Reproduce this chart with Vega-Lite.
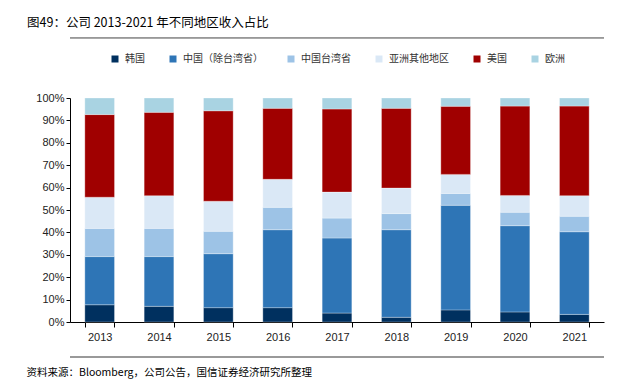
{
  "$schema": "https://vega.github.io/schema/vega-lite/v6.json",
  "autosize": "none",
  "width": 534,
  "height": 224,
  "padding": {"left": 70, "top": 98, "right": 27, "bottom": 67},
  "background": "white",
  "config": {"view": {"stroke": null}},
  "title": {
    "text": "图49：公司 2013-2021 年不同地区收入占比",
    "anchor": "start",
    "frame": "group",
    "dx": -43,
    "offset": 8,
    "font": "Noto Sans CJK SC",
    "fontSize": 12.5,
    "fontWeight": "normal",
    "color": "#000000"
  },
  "data": {"values": [
    {"year": "2013", "region": "韩国", "k": 0, "v": 7.7},
    {"year": "2013", "region": "中国（除台湾省）", "k": 1, "v": 21.5},
    {"year": "2013", "region": "中国台湾省", "k": 2, "v": 12.6},
    {"year": "2013", "region": "亚洲其他地区", "k": 3, "v": 13.9},
    {"year": "2013", "region": "美国", "k": 4, "v": 36.9},
    {"year": "2013", "region": "欧洲", "k": 5, "v": 7.4},
    {"year": "2014", "region": "韩国", "k": 0, "v": 7.0},
    {"year": "2014", "region": "中国（除台湾省）", "k": 1, "v": 22.2},
    {"year": "2014", "region": "中国台湾省", "k": 2, "v": 12.6},
    {"year": "2014", "region": "亚洲其他地区", "k": 3, "v": 14.6},
    {"year": "2014", "region": "美国", "k": 4, "v": 37.2},
    {"year": "2014", "region": "欧洲", "k": 5, "v": 6.4},
    {"year": "2015", "region": "韩国", "k": 0, "v": 6.4},
    {"year": "2015", "region": "中国（除台湾省）", "k": 1, "v": 24.1},
    {"year": "2015", "region": "中国台湾省", "k": 2, "v": 10.0},
    {"year": "2015", "region": "亚洲其他地区", "k": 3, "v": 13.4},
    {"year": "2015", "region": "美国", "k": 4, "v": 40.4},
    {"year": "2015", "region": "欧洲", "k": 5, "v": 5.7},
    {"year": "2016", "region": "韩国", "k": 0, "v": 6.4},
    {"year": "2016", "region": "中国（除台湾省）", "k": 1, "v": 34.8},
    {"year": "2016", "region": "中国台湾省", "k": 2, "v": 10.0},
    {"year": "2016", "region": "亚洲其他地区", "k": 3, "v": 12.5},
    {"year": "2016", "region": "美国", "k": 4, "v": 31.7},
    {"year": "2016", "region": "欧洲", "k": 5, "v": 4.6},
    {"year": "2017", "region": "韩国", "k": 0, "v": 4.0},
    {"year": "2017", "region": "中国（除台湾省）", "k": 1, "v": 33.5},
    {"year": "2017", "region": "中国台湾省", "k": 2, "v": 8.9},
    {"year": "2017", "region": "亚洲其他地区", "k": 3, "v": 11.6},
    {"year": "2017", "region": "美国", "k": 4, "v": 37.1},
    {"year": "2017", "region": "欧洲", "k": 5, "v": 4.9},
    {"year": "2018", "region": "韩国", "k": 0, "v": 2.1},
    {"year": "2018", "region": "中国（除台湾省）", "k": 1, "v": 39.1},
    {"year": "2018", "region": "中国台湾省", "k": 2, "v": 7.2},
    {"year": "2018", "region": "亚洲其他地区", "k": 3, "v": 11.4},
    {"year": "2018", "region": "美国", "k": 4, "v": 35.6},
    {"year": "2018", "region": "欧洲", "k": 5, "v": 4.6},
    {"year": "2019", "region": "韩国", "k": 0, "v": 5.4},
    {"year": "2019", "region": "中国（除台湾省）", "k": 1, "v": 46.7},
    {"year": "2019", "region": "中国台湾省", "k": 2, "v": 5.3},
    {"year": "2019", "region": "亚洲其他地区", "k": 3, "v": 8.5},
    {"year": "2019", "region": "美国", "k": 4, "v": 30.4},
    {"year": "2019", "region": "欧洲", "k": 5, "v": 3.7},
    {"year": "2020", "region": "韩国", "k": 0, "v": 4.5},
    {"year": "2020", "region": "中国（除台湾省）", "k": 1, "v": 38.5},
    {"year": "2020", "region": "中国台湾省", "k": 2, "v": 6.0},
    {"year": "2020", "region": "亚洲其他地区", "k": 3, "v": 7.5},
    {"year": "2020", "region": "美国", "k": 4, "v": 39.9},
    {"year": "2020", "region": "欧洲", "k": 5, "v": 3.6},
    {"year": "2021", "region": "韩国", "k": 0, "v": 3.4},
    {"year": "2021", "region": "中国（除台湾省）", "k": 1, "v": 36.9},
    {"year": "2021", "region": "中国台湾省", "k": 2, "v": 6.9},
    {"year": "2021", "region": "亚洲其他地区", "k": 3, "v": 9.2},
    {"year": "2021", "region": "美国", "k": 4, "v": 40.0},
    {"year": "2021", "region": "欧洲", "k": 5, "v": 3.6}
  ]},
  "layer": [
    {
      "mark": {"type": "bar", "stroke": "#ffffff", "strokeWidth": 0.5, "strokeOpacity": 0.6},
      "encoding": {
        "x": {
          "field": "year",
          "type": "ordinal",
          "scale": {"paddingInner": 0.5, "paddingOuter": 0.25},
          "axis": {
            "title": "资料来源：Bloomberg，公司公告，国信证券经济研究所整理",
            "titleFont": "Noto Sans CJK SC",
            "titleFontSize": 10.5,
            "titleFontWeight": "normal",
            "titleColor": "#000000",
            "titleAnchor": "start",
            "titleAlign": "left",
            "titleX": -44,
            "titleY": 50,
            "titleBaseline": "middle",
            "labelAngle": 0,
            "labelFont": "Liberation Sans",
            "labelFontSize": 11,
            "labelColor": "#222222",
            "labelPadding": 4,
            "tickBand": "extent",
            "tickColor": "#000000",
            "tickSize": 5,
            "domainColor": "#000000",
            "grid": false
          }
        },
        "y": {
          "field": "v",
          "type": "quantitative",
          "stack": "normalize",
          "scale": {"domain": [0, 1]},
          "axis": {
            "title": null,
            "format": ".0%",
            "tickCount": 10,
            "labelOverlap": false,
            "labelFont": "Liberation Sans",
            "labelFontSize": 11,
            "labelColor": "#222222",
            "tickColor": "#000000",
            "tickSize": 4,
            "domainColor": "#000000",
            "grid": false
          }
        },
        "order": {"field": "k", "type": "quantitative", "sort": "ascending"},
        "color": {
          "field": "region",
          "type": "nominal",
          "scale": {
            "domain": ["韩国", "中国（除台湾省）", "中国台湾省", "亚洲其他地区", "美国", "欧洲"],
            "range": ["#00305F", "#2E75B6", "#9DC3E6", "#DAE8F6", "#A00000", "#A9D3E2"]
          },
          "legend": {
            "title": null,
            "orient": "none",
            "direction": "horizontal",
            "legendX": 40,
            "legendY": -44,
            "symbolType": "square",
            "symbolSize": 49,
            "symbolStrokeWidth": 0,
            "labelFont": "Noto Sans CJK SC",
            "labelFontSize": 10,
            "labelColor": "#333333",
            "columnPadding": 23,
            "labelOffset": 5
          }
        }
      }
    },
    {
      "mark": {"type": "rule", "color": "#999999", "strokeWidth": 1},
      "encoding": {"y": {"datum": 1.27}}
    },
    {
      "mark": {"type": "rule", "color": "#999999", "strokeWidth": 1},
      "encoding": {"y": {"datum": -0.156}}
    }
  ]
}
